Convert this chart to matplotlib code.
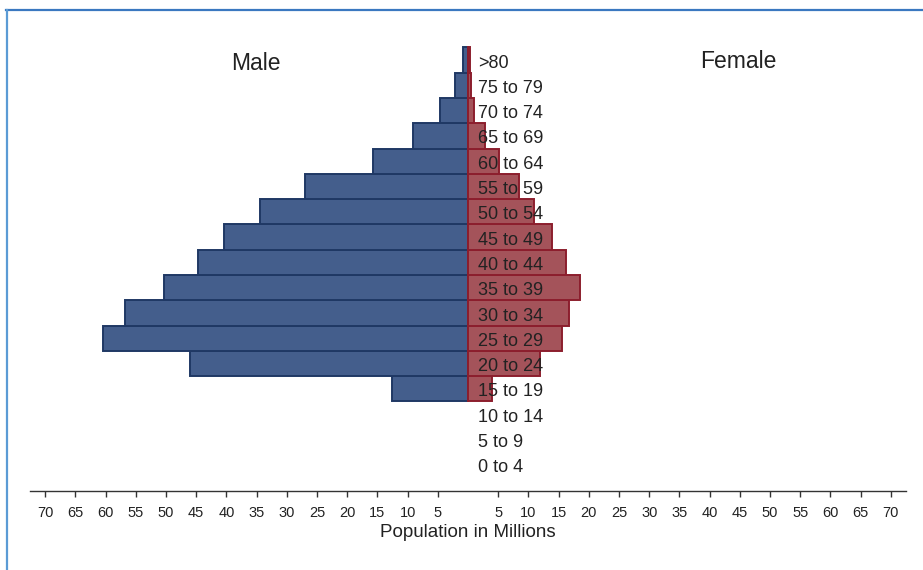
import matplotlib
matplotlib.use("Agg")
import matplotlib.pyplot as plt
from matplotlib.lines import Line2D

plt.rcParams['font.family'] = ['Liberation Sans', 'DejaVu Sans']

# Age groups, youngest first
age_groups = ["0 to 4", "5 to 9", "10 to 14", "15 to 19", "20 to 24", "25 to 29",
              "30 to 34", "35 to 39", "40 to 44", "45 to 49", "50 to 54",
              "55 to 59", "60 to 64", "65 to 69", "70 to 74", "75 to 79", ">80"]

# Population in millions
male = [0, 0, 0, 12.6, 46.0, 60.4, 56.8, 50.3, 44.7, 40.4, 34.4,
        27.0, 15.7, 9.1, 4.7, 2.1, 0.8]
female = [0, 0, 0, 3.9, 12.0, 15.6, 16.8, 18.6, 16.2, 13.9, 10.9,
          8.4, 5.1, 2.8, 1.0, 0.5, 0.3]

tick_values = [5, 10, 15, 20, 25, 30, 35, 40, 45, 50, 55, 60, 65, 70]

male_fill, male_edge = "#445e8c", "#1f3864"
female_fill, female_edge = "#a4535a", "#8c1e2d"

fig = plt.figure(figsize=(9.23, 5.70), dpi=100)
W, H = 923, 570
ax = fig.add_axes([30 / W, 1 - 491 / H, 876 / W, 461 / H])

y = list(range(len(age_groups)))
# empty groups get no outline so nothing is drawn for them
male_lw = [1.4 if v > 0 else 0 for v in male]
female_lw = [1.4 if v > 0 else 0 for v in female]
ax.barh(y, [-v for v in male], height=1.0, color=male_fill,
        edgecolor=male_edge, linewidth=male_lw, zorder=2)
ax.barh(y, female, height=1.0, color=female_fill,
        edgecolor=female_edge, linewidth=female_lw, zorder=2)

for yi, label in zip(y, age_groups):
    ax.text(1.65, yi - 0.12, label, ha="left", va="center", fontsize=13,
            color="#222222", zorder=3)

ax.text(-35.1, 15.85, "Male", ha="center", va="center", fontsize=16.5,
        color="#222222")
ax.text(44.7, 15.95, "Female", ha="center", va="center", fontsize=16.5,
        color="#222222")

ax.set_xlim(-72.5, 72.5)
ax.set_ylim(-1.04, 17.19)

ticks = [-t for t in tick_values[::-1]] + tick_values
ax.set_xticks(ticks)
ax.set_xticklabels([str(abs(t)) for t in ticks])
ax.tick_params(axis="x", direction="out", length=4, width=1, color="#333333",
               labelsize=10.5, labelcolor="#222222", pad=7)
ax.set_yticks([])
for side in ("top", "left", "right"):
    ax.spines[side].set_visible(False)
ax.spines["bottom"].set_color("#333333")
ax.spines["bottom"].set_linewidth(1.0)

ax.set_xlabel("Population in Millions", fontsize=13.5, color="#222222",
              labelpad=3)

# Frame lines along the top and left edges of the figure
fig.add_artist(Line2D([6 / W, 1], [1 - 9.5 / H, 1 - 9.5 / H],
                      transform=fig.transFigure, color="#3a78c0", linewidth=1.6))
fig.add_artist(Line2D([6.5 / W, 6.5 / W], [0, 1 - 9.5 / H],
                      transform=fig.transFigure, color="#5b9bd5", linewidth=1.6))

fig.savefig("out.png", dpi=100)
